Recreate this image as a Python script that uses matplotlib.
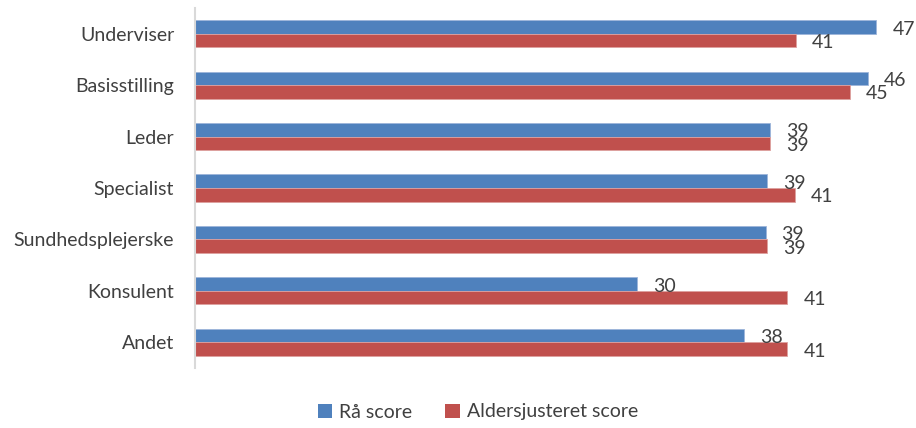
import matplotlib.pyplot as plt
import numpy as np
from matplotlib.patches import Patch

categories = ['Underviser', 'Basisstilling', 'Leder', 'Specialist',
              'Sundhedsplejerske', 'Konsulent', 'Andet']
raw_score = [46.7, 46.1, 39.4, 39.2, 39.1, 30.3, 37.6]
age_adjusted = [41.2, 44.9, 39.4, 41.1, 39.2, 40.6, 40.6]
series_names = ['Rå score', 'Aldersjusteret score']

BLUE = '#4F81BD'
RED = '#C0504D'
TEXT = '#404040'

plt.rcParams['font.family'] = ['Lato', 'DejaVu Sans']

fig = plt.figure(figsize=(9.16, 4.28), dpi=100)
ax = fig.add_axes([195 / 916, 60 / 428, 715 / 916, 360 / 428])

y = np.arange(len(categories))
h = 0.263

bars_raw = ax.barh(y - h / 2, raw_score, height=h, color=BLUE,
                   edgecolor='#9DB5DA', linewidth=0.6)
bars_adj = ax.barh(y + h / 2, age_adjusted, height=h, color=RED,
                   edgecolor='#DDA09F', linewidth=0.6)

# value labels just past the end of each bar
for bars, vals in [(bars_raw, raw_score), (bars_adj, age_adjusted)]:
    for bar, v in zip(bars, vals):
        ax.annotate(f'{v:.0f}', xy=(v, bar.get_y() + bar.get_height() / 2),
                    xytext=(11.5, -1.5), textcoords='offset points',
                    ha='left', va='center', fontsize=14, color=TEXT)

ax.set_xlim(0, 49)
ax.set_ylim(len(categories) - 0.5, -0.5)
ax.set_yticks(y)
ax.set_yticklabels(categories, fontsize=14, color=TEXT)
ax.tick_params(axis='y', length=0, pad=15)
ax.set_xticks([])

for side in ['top', 'right', 'bottom']:
    ax.spines[side].set_visible(False)
ax.spines['left'].set_color('#D9D9D9')
ax.spines['left'].set_linewidth(1.5)

handles = [Patch(facecolor=BLUE), Patch(facecolor=RED)]
fig.legend(handles, series_names, loc='center', bbox_to_anchor=(478 / 916, 1 - 412 / 428),
           ncol=2, frameon=False, fontsize=14, labelcolor=TEXT,
           handlelength=0.75, handleheight=0.75, handletextpad=0.35, columnspacing=1.7)

fig.savefig('out.png', dpi=100)
